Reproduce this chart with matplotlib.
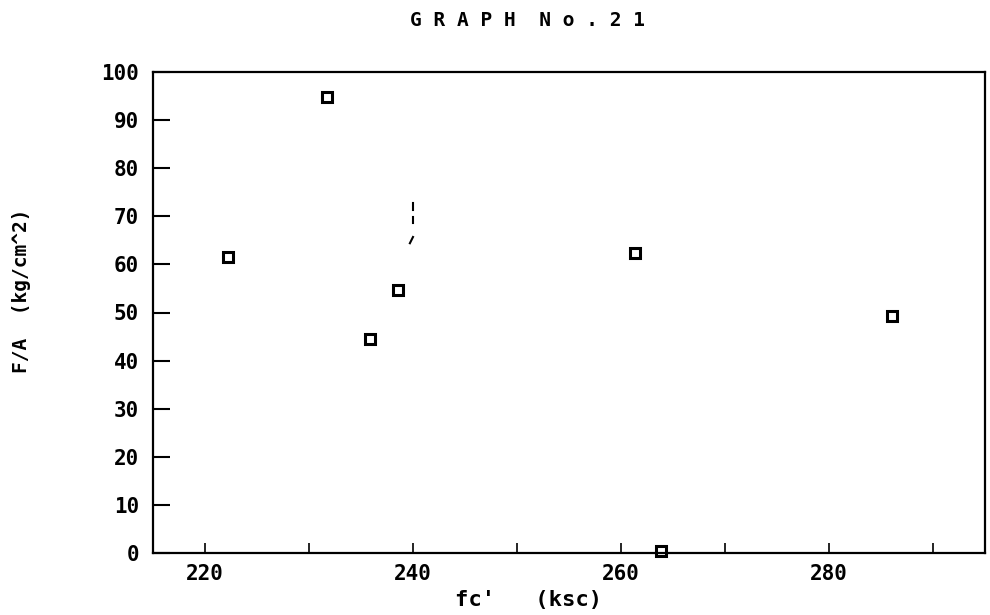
import matplotlib
matplotlib.use("Agg")
import matplotlib.pyplot as plt

# data
fc = [222.2, 231.7, 235.9, 238.6, 261.3, 263.8, 286.1]
fa = [61.5, 94.8, 44.5, 54.7, 62.4, 0.4, 49.3]

# small stray marks near x = 240
mark_x = [[240.0, 240.0], [240.0, 240.0], [240.0, 239.7]]
mark_y = [[72.8, 71.3], [69.9, 68.6], [65.7, 64.4]]

x_major = [220, 240, 260, 280]
x_minor = [230, 250, 270, 290]
y_ticks = [0, 10, 20, 30, 40, 50, 60, 70, 80, 90, 100]

FONT = "DejaVu Sans Mono"

fig = plt.figure(figsize=(9.9, 6.15), dpi=100)
ax = fig.add_axes([153 / 990, 1 - 553 / 615, (985 - 153) / 990, (553 - 72) / 615])

ax.plot(fc, fa, linestyle="none", marker="s", markersize=7.2,
        markerfacecolor="none", markeredgecolor="black", markeredgewidth=2.2,
        clip_on=False, zorder=3)
for mx, my in zip(mark_x, mark_y):
    ax.plot(mx, my, color="black", linewidth=1.5)

ax.set_xlim(215, 295)
ax.set_ylim(0, 100)

ax.set_xticks(x_major)
ax.set_xticks(x_minor, minor=True)
ax.set_yticks(y_ticks)

ax.tick_params(axis="x", which="both", direction="in", length=7, width=1.2,
               pad=8, labelsize=15)
ax.tick_params(axis="y", which="both", direction="in", length=12, width=1.5,
               pad=10, labelsize=15)
for lab in ax.get_xticklabels() + ax.get_yticklabels():
    lab.set_fontfamily(FONT)
    lab.set_fontweight("bold")

for sp in ax.spines.values():
    sp.set_linewidth(1.6)

fig.text(527 / 990, 1 - 21 / 615, "G R A P H  N o . 2 1", ha="center", va="center",
         fontsize=14, fontweight="bold", family=FONT)
fig.text(529 / 990, 1 - 600 / 615, "fc'   (ksc)", ha="center", va="center",
         fontsize=16, fontweight="bold", family=FONT)
fig.text(22 / 990, 1 - 291 / 615, "F/A  (kg/cm^2)", ha="center", va="center",
         rotation=90, fontsize=14, fontweight="bold", family=FONT)

fig.savefig("out.png", dpi=100, facecolor="white")
